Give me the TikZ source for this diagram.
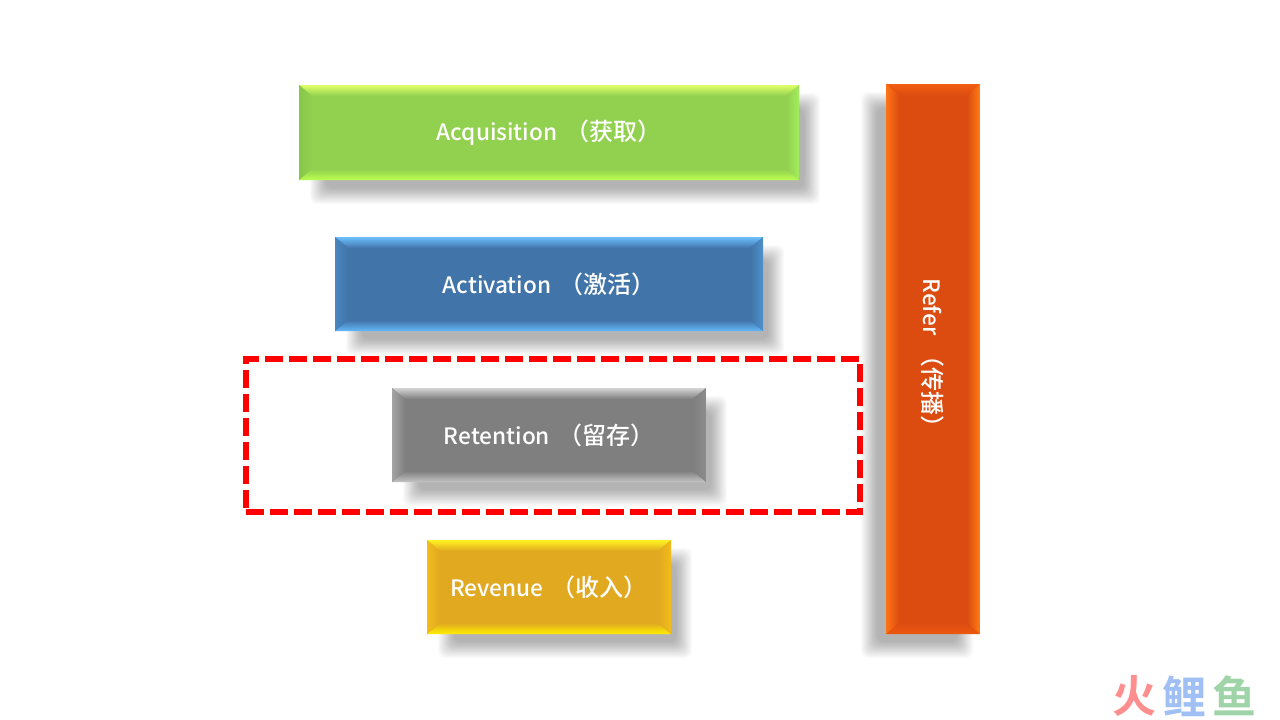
\documentclass[tikz,border=0pt]{standalone}
\usepackage{fontspec}
\newfontfamily\boxfont{Noto Sans CJK SC Medium}
\newfontfamily\markfont{Noto Sans CJK SC Bold}
\definecolor{gnB}{HTML}{92D050}\definecolor{gnT}{HTML}{E0FF68}\definecolor{gnS}{HTML}{86C648}\definecolor{gnR}{HTML}{A4EC5C}\definecolor{gnD}{HTML}{BCFF50}
\definecolor{blB}{HTML}{4174A8}\definecolor{blT}{HTML}{6CC0FF}\definecolor{blS}{HTML}{4A86C0}\definecolor{blR}{HTML}{4F90CC}\definecolor{blD}{HTML}{64B8FA}
\definecolor{gyB}{HTML}{7F7F7F}\definecolor{gyT}{HTML}{D4D4D4}\definecolor{gyS}{HTML}{A4A4A4}\definecolor{gyR}{HTML}{8C8C8C}\definecolor{gyD}{HTML}{C4C4C4}
\definecolor{ylB}{HTML}{E0A91F}\definecolor{ylT}{HTML}{FFF420}\definecolor{ylS}{HTML}{F4BC1C}\definecolor{ylR}{HTML}{F4BC1C}\definecolor{ylD}{HTML}{FFF000}
\definecolor{orB}{HTML}{DC4C10}\definecolor{orT}{HTML}{F25E10}\definecolor{orS}{HTML}{FF7414}\definecolor{orR}{HTML}{FF7C14}\definecolor{orD}{HTML}{EE5810}
\definecolor{markRed}{HTML}{FF8F8F}\definecolor{markBlue}{HTML}{A0BFF5}\definecolor{markGreen}{HTML}{9FD4A8}
\newcommand{\cjt}[1]{{\hspace{3pt}\fontsize{24}{26}\selectfont #1}}
\tikzset{
  barbox/.style={inner sep=0pt,outer sep=0pt,text=white,font=\boxfont\fontsize{22.6}{26}\selectfont},
  framebox/.style={draw=red,line width=6pt,inner sep=0pt,outer sep=0pt,dash pattern=on 18pt off 6pt},
  markglyph/.style={inner sep=0pt,font=\markfont\fontsize{44}{44}\selectfont}
}
% #1 name, #2 x1, #3 y1, #4 x2, #5 y2, #6 colour prefix, #7/#8 shadow left/right offset, #9 text
\newcommand{\bevbox}[9]{%
  \foreach \k in {0,...,15}{%
    \pgfmathsetmacro{\ins}{-8+16*\k/15}%
    \fill[black,opacity=.021,rounded corners=7pt] ({#2+#7+\ins},{#3+16+\ins}) rectangle ({#4+#8-\ins},{#5+16-\ins});
  }%
  \node[barbox,fill=#6B,minimum width={(#4-#2)*1pt},minimum height={(#5-#3)*1pt}] (#1) at ({(#2+#4)/2},{(#3+#5)/2}) {#9};
  \shade[top color=#6T,bottom color=#6B] (#2,#3) -- (#4,#3) -- ({#4-13},{#3+11}) -- ({#2+13},{#3+11}) -- cycle;
  \shade[bottom color=#6D,top color=#6B] (#2,#5) -- (#4,#5) -- ({#4-13},{#5-11}) -- ({#2+13},{#5-11}) -- cycle;
  \shade[left color=#6S,right color=#6B] (#2,#3) -- ({#2+13},{#3+11}) -- ({#2+13},{#5-11}) -- (#2,#5) -- cycle;
  \shade[right color=#6R,left color=#6B] (#4,#3) -- ({#4-13},{#3+11}) -- ({#4-13},{#5-11}) -- (#4,#5) -- cycle;
}
\begin{document}
\begin{tikzpicture}[x=1pt,y=-1pt]
\useasboundingbox (0,0) rectangle (1280,720);
\fill[white] (0,0) rectangle (1280,720);
\bevbox{acquisition}{299}{85}{799}{180}{gn}{19}{13}{Acquisition \cjt{（获取）}}
\bevbox{activation}{335}{237}{763}{331}{bl}{19}{13}{Activation \cjt{（激活）}}
\bevbox{retention}{392}{388}{706}{482}{gy}{19}{13}{Retention \cjt{（留存）}}
\bevbox{revenue}{427}{540}{671}{634}{yl}{19}{13}{Revenue \cjt{（收入）}}
\bevbox{refer}{886}{84}{980}{634}{or}{-17}{-15}{\rotatebox{-90}{Refer \cjt{（传播）}}}
\node[framebox,minimum width=614pt,minimum height=153pt] (retentionframe) at (553,435.5) {};
\node[markglyph,text=markRed] (markA) at (1134,696) {火};
\node[markglyph,text=markBlue] (markB) at (1184,696) {鲤};
\node[markglyph,text=markGreen] (markC) at (1234,696) {鱼};
\end{tikzpicture}
\end{document}
